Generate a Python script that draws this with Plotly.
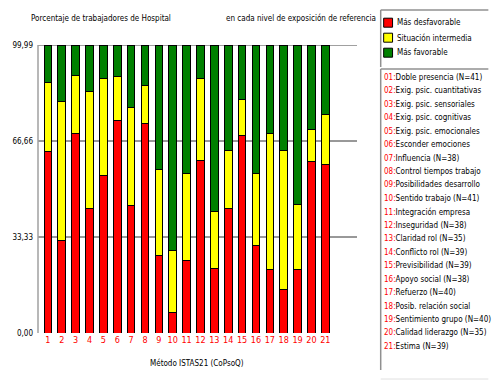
import plotly.graph_objects as go

# ---- data ----
categories = [str(i) for i in range(1, 22)]
mas_desfavorable = [62.9, 32.2, 69.3, 43.2, 54.8, 73.7, 44.1, 72.8, 27.0, 7.0, 25.3,
                    60.0, 22.4, 43.2, 68.4, 30.5, 22.0, 15.1, 22.0, 59.4, 58.6]
situacion_intermedia = [24.0, 48.1, 20.0, 40.6, 33.6, 15.3, 34.1, 13.1, 29.8, 21.5, 30.1,
                        28.4, 19.9, 20.1, 12.8, 24.9, 47.1, 48.1, 22.6, 11.4, 17.4]
mas_favorable = [13.09, 19.69, 10.69, 16.19, 11.59, 10.99, 21.79, 14.09, 43.19, 71.49, 44.59,
                 11.59, 57.69, 36.69, 18.79, 44.59, 30.89, 36.79, 55.39, 29.19, 23.99]
series_names = ["Más desfavorable", "Situación intermedia", "Más favorable"]
series_colors = ["#ff0000", "#ffff00", "#008000"]
y_tickvals = [0, 33.33, 66.66, 99.99]
y_ticktext = ["0,00", "33,33", "66,66", "99,99"]
dimensiones = [
    "Doble presencia (N=41)", "Exig. psic. cuantitativas", "Exig. psic. sensoriales",
    "Exig. psic. cognitivas", "Exig. psic. emocionales", "Esconder emociones",
    "Influencia (N=38)", "Control tiempos trabajo", "Posibilidades desarrollo",
    "Sentido trabajo (N=41)", "Integración empresa", "Inseguridad (N=38)",
    "Claridad rol (N=35)", "Conflicto rol (N=39)", "Previsibilidad (N=39)",
    "Apoyo social (N=38)", "Refuerzo (N=40)", "Posib. relación social",
    "Sentimiento grupo (N=40)", "Calidad liderazgo (N=35)", "Estima (N=39)",
]

FONT = "DejaVu Sans Condensed, Liberation Sans Narrow, Arial Narrow, sans-serif"
W, H = 498, 385
L, R, T, B = 34, 141, 45, 52
PW, PH = W - L - R, H - T - B


def px(x):
    return (x - L) / PW


def py(y):
    return (H - B - y) / PH


fig = go.Figure()
xs = list(range(1, 22))
for name, vals, col in zip(series_names, [mas_desfavorable, situacion_intermedia, mas_favorable], series_colors):
    fig.add_trace(go.Bar(x=xs, y=vals, name=name, marker=dict(color=col, line=dict(color="black", width=1)),
                         width=0.55, showlegend=False))

shapes = []
for v, c, w in [(33.33, "#333333", 1), (66.66, "#333333", 1), (99.99, "#a0a0a0", 2)]:
    shapes.append(dict(type="line", xref="paper", yref="y", x0=0, x1=1, y0=v, y1=v,
                       line=dict(color=c, width=w), layer="below"))
shapes.append(dict(type="line", xref="paper", yref="paper", x0=0, x1=0, y0=0, y1=1,
                   line=dict(color="#a0a0a0", width=1.5), layer="below"))

bx0, bx1 = 381, 490
shapes += [
    dict(type="line", xref="paper", yref="paper", x0=px(bx0), x1=px(bx1), y0=py(10), y1=py(10), line=dict(color="#909090", width=1.5)),
    dict(type="line", xref="paper", yref="paper", x0=px(bx0), x1=px(bx0), y0=py(10), y1=py(67), line=dict(color="#909090", width=1.5)),
    dict(type="line", xref="paper", yref="paper", x0=px(bx0), x1=px(bx1), y0=py(69), y1=py(69), line=dict(color="#909090", width=1.5)),
    dict(type="line", xref="paper", yref="paper", x0=px(bx0), x1=px(bx0), y0=py(69), y1=py(370), line=dict(color="#909090", width=1.5)),
    dict(type="line", xref="paper", yref="paper", x0=px(bx0), x1=px(bx1), y0=py(379), y1=py(379), line=dict(color="#e0e0e0", width=1)),
]

annotations = []
for i, (name, col) in enumerate(zip(series_names, series_colors)):
    yc = 22.7 + 15 * i
    shapes.append(dict(type="rect", xref="paper", yref="paper", x0=px(384), x1=px(393),
                       y0=py(yc + 4.5), y1=py(yc - 4.5), fillcolor=col, line=dict(color="black", width=1)))
    annotations.append(dict(xref="paper", yref="paper", x=px(395), y=py(yc), text=name, showarrow=False,
                            xanchor="left", yanchor="middle", font=dict(family=FONT, size=8, color="black")))

for i, d in enumerate(dimensiones):
    yc = 77.3 + 13.45 * i
    annotations.append(dict(xref="paper", yref="paper", x=px(382), y=py(yc),
                            text=f"<span style='color:#ff0000'>{i+1:02d}:</span>{d}", showarrow=False,
                            xanchor="left", yanchor="middle", font=dict(family=FONT, size=8, color="black")))

annotations += [
    dict(xref="paper", yref="paper", x=px(25), y=py(18), text="Porcentaje de trabajadores de Hospital",
         showarrow=False, xanchor="left", yanchor="middle", font=dict(family=FONT, size=8, color="black")),
    dict(xref="paper", yref="paper", x=px(222), y=py(18), text="en cada nivel de exposición de referencia",
         showarrow=False, xanchor="left", yanchor="middle", font=dict(family=FONT, size=8, color="black")),
    dict(xref="paper", yref="paper", x=px(195), y=py(363), text="Método ISTAS21 (CoPsoQ)",
         showarrow=False, xanchor="center", yanchor="middle", font=dict(family=FONT, size=8, color="black")),
]

fig.update_layout(
    width=W, height=H, margin=dict(l=L, r=R, t=T, b=B, pad=0),
    barmode="stack", paper_bgcolor="white", plot_bgcolor="white",
    font=dict(family=FONT, size=8, color="black"),
    shapes=shapes, annotations=annotations,
    xaxis=dict(range=[0.29, 23.28], tickvals=xs, ticktext=categories, showgrid=False, zeroline=False,
               showline=False, ticks="", tickfont=dict(family=FONT, size=9, color="#ff0000")),
    yaxis=dict(range=[0, 99.99], tickvals=y_tickvals, ticktext=y_ticktext, showgrid=False, zeroline=False,
               showline=False, ticks="", ticklabelstandoff=4, tickfont=dict(family=FONT, size=8, color="black")),
)

fig.write_html("out.html", config={"displayModeBar": False},
               post_script="document.body.style.margin='0px';")
